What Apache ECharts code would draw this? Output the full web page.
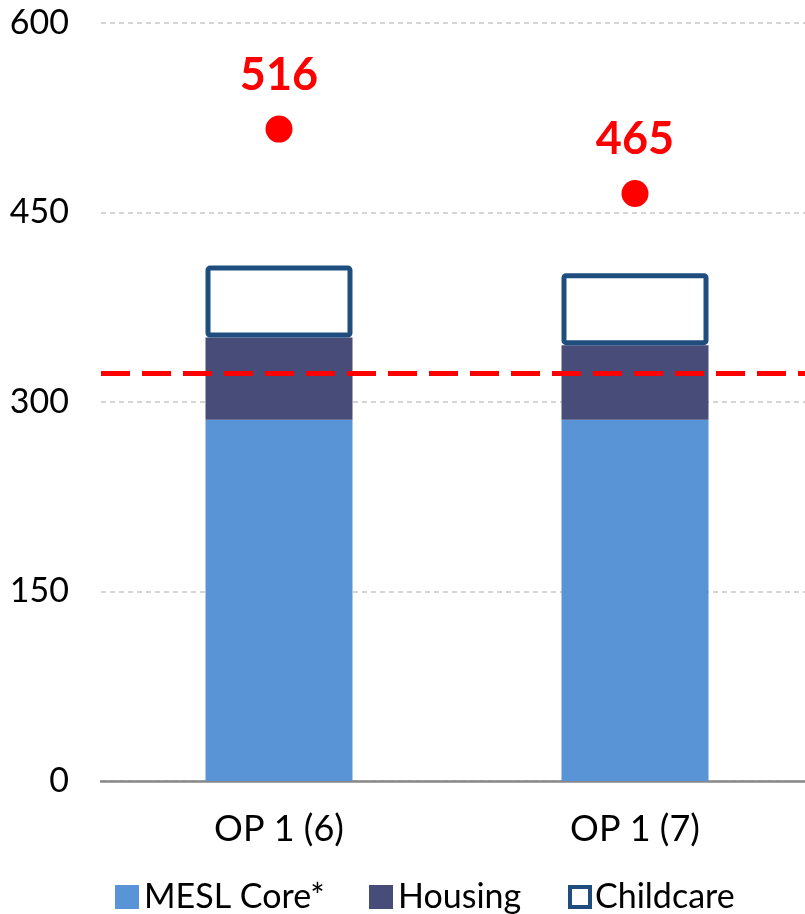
<!DOCTYPE html>
<html>
<head>
<meta charset="utf-8">
<style>
  html, body { margin: 0; padding: 0; background: #fff; }
  #chart { width: 805px; height: 914px; }
</style>
<script src="https://cdn.jsdelivr.net/npm/echarts@6/dist/echarts.min.js"></script>
</head>
<body>
<div id="chart"></div>
<script>
// Budget components per household option
const categories = ['OP 1 (6)', 'OP 1 (7)'];
const mcslCore = [286, 286];
const housing = [65, 59];
const childcare = [57, 57];
// Comparison totals drawn as red dots with labels
const totals = [516, 465];
// Reference level drawn as a dashed red line
const threshold = 323;
const yTicks = { min: 0, max: 600, interval: 150 };

const FONT = 'Lato, "DejaVu Sans", sans-serif';
const COLORS = { core: '#5894D6', housing: '#484C78', childcare: '#1F4E7E', red: '#FF0000' };

// One legend block per entry so each swatch sits where it belongs
function legendBlock(name, left, size, itemStyle) {
  return {
    left: left,
    top: 875,
    itemWidth: size,
    itemHeight: size,
    icon: 'rect',
    textStyle: { fontFamily: FONT, fontSize: 34, color: '#000' },
    data: [itemStyle ? { name: name, itemStyle: itemStyle } : { name: name }]
  };
}

const chart = echarts.init(document.getElementById('chart'));
chart.setOption({
  animation: false,
  textStyle: { fontFamily: FONT, color: '#000' },
  grid: { left: 101, top: 23, width: 712, height: 758, outerBoundsMode: 'none', containLabel: false },
  legend: [
    legendBlock('MESL Core*', 110, 24),
    legendBlock('Housing', 364, 24),
    legendBlock('Childcare', 563, 20, { color: '#fff', borderColor: COLORS.childcare, borderWidth: 4 })
  ],
  xAxis: {
    type: 'category',
    data: categories,
    axisTick: { show: false },
    axisLine: { lineStyle: { color: '#888', width: 2.5 } },
    axisLabel: { fontFamily: FONT, fontSize: 36, color: '#000', margin: 30 }
  },
  yAxis: {
    type: 'value',
    min: yTicks.min,
    max: yTicks.max,
    interval: yTicks.interval,
    axisLine: { show: false },
    axisTick: { show: false },
    axisLabel: { fontFamily: FONT, fontSize: 34, color: '#000', margin: 32 },
    splitLine: { lineStyle: { color: '#c8c8c8', width: 1.5, type: [5, 4] } }
  },
  series: [
    {
      name: 'MESL Core*',
      type: 'bar',
      stack: 'budget',
      barWidth: 147,
      data: mcslCore,
      itemStyle: { color: COLORS.core }
    },
    {
      name: 'Housing',
      type: 'bar',
      stack: 'budget',
      barWidth: 147,
      data: housing,
      itemStyle: { color: COLORS.housing }
    },
    {
      name: 'Childcare',
      type: 'bar',
      stack: 'budget',
      barWidth: 147,
      data: childcare,
      itemStyle: { color: '#fff', borderColor: COLORS.childcare, borderWidth: 5, borderRadius: 2 },
      markLine: {
        silent: true,
        symbol: 'none',
        label: { show: false },
        lineStyle: { color: COLORS.red, width: 5, type: [29, 12] },
        data: [{ yAxis: threshold }]
      }
    },
    {
      name: 'Total',
      type: 'scatter',
      data: totals,
      symbol: 'circle',
      symbolSize: 27,
      itemStyle: { color: COLORS.red, opacity: 1 },
      label: {
        show: true,
        position: 'top',
        distance: 18,
        fontFamily: FONT,
        fontSize: 45,
        fontWeight: 'bold',
        color: COLORS.red
      },
      z: 5
    }
  ]
});
</script>
</body>
</html>
